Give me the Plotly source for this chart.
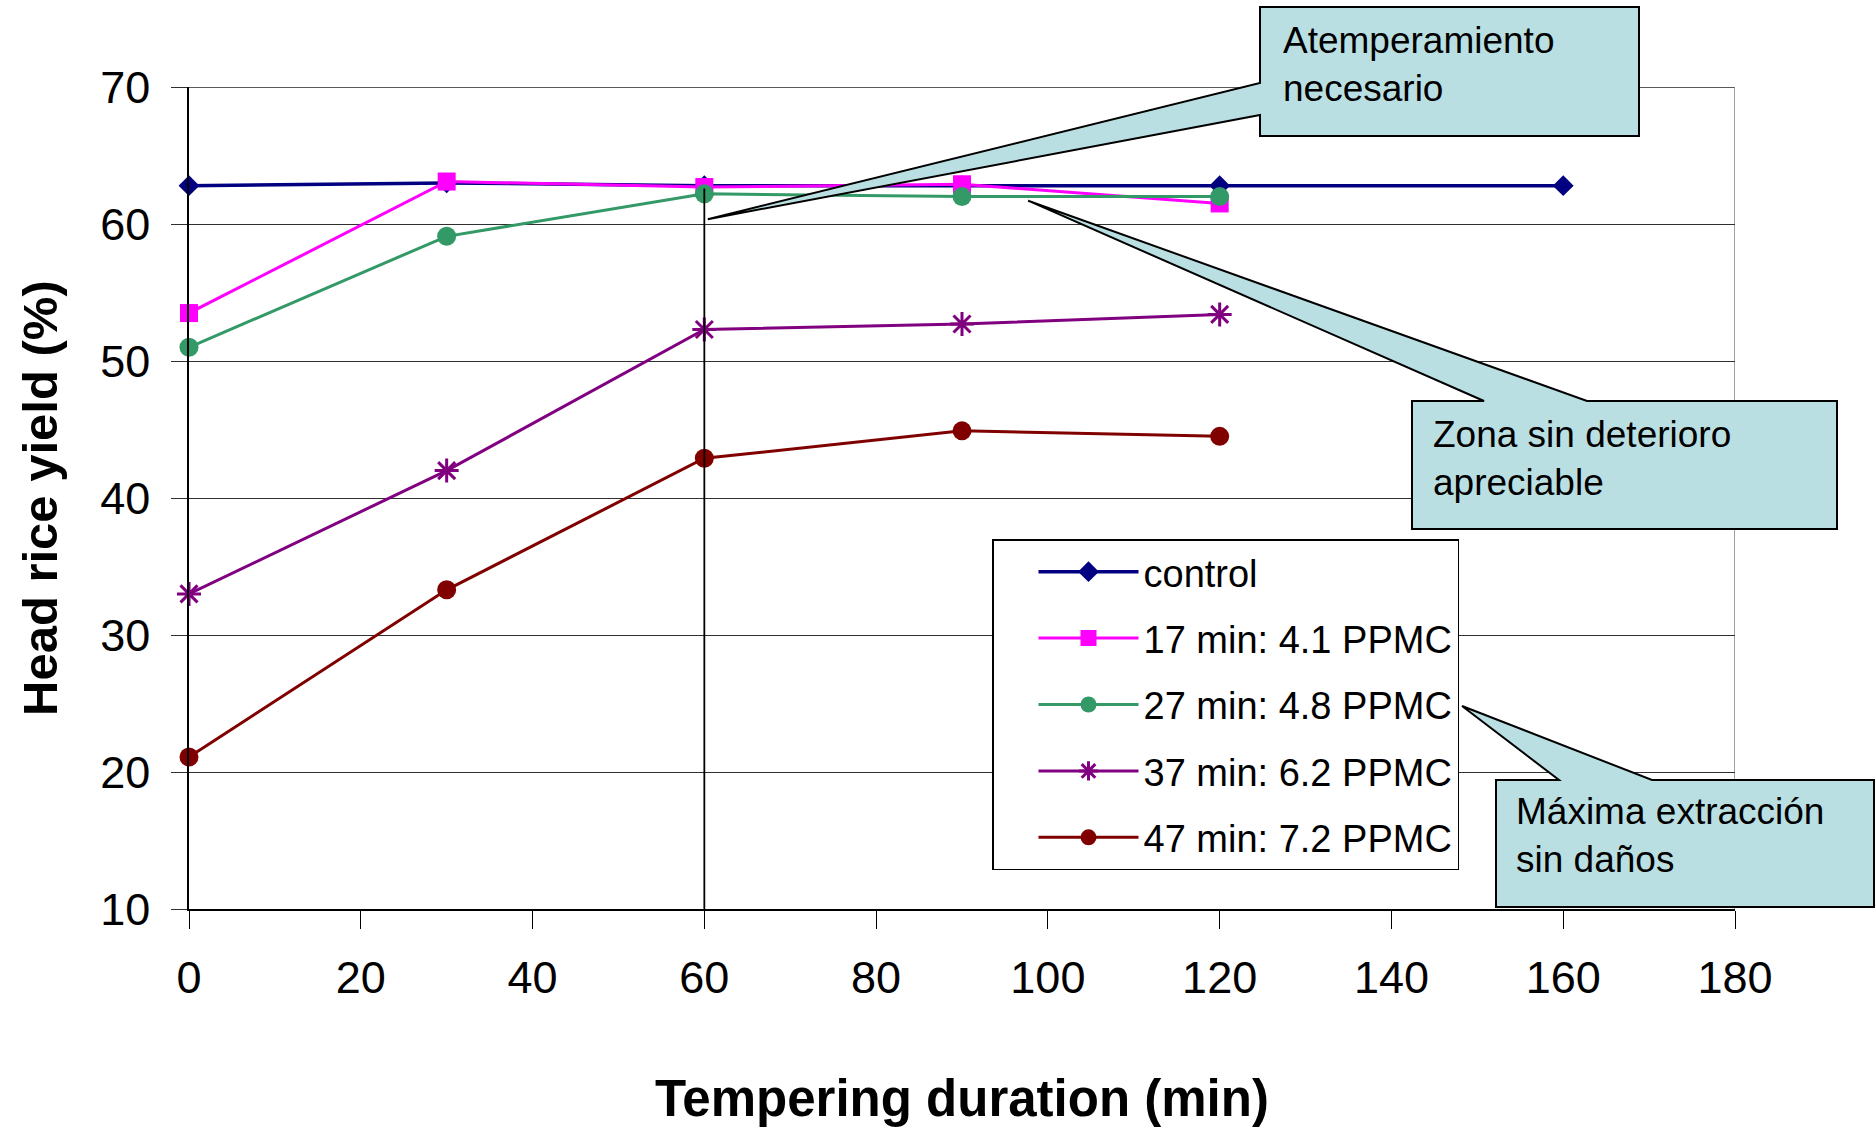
import plotly.graph_objects as go

# ---------------- data ----------------
x_control = [0, 30, 60, 90, 120, 160]
y_control = [62.8, 63.0, 62.8, 62.8, 62.8, 62.8]

x_series = [0, 30, 60, 90, 120]
y_17 = [53.5, 63.1, 62.7, 62.9, 61.5]
y_27 = [51.0, 59.1, 62.2, 62.0, 62.0]
y_37 = [33.0, 42.0, 52.3, 52.7, 53.4]
y_47 = [21.1, 33.3, 42.9, 44.9, 44.5]

names = ["control", "17 min: 4.1 PPMC", "27 min: 4.8 PPMC",
         "37 min: 6.2 PPMC", "47 min: 7.2 PPMC"]
colors = ["#000080", "#FF00FF", "#339966", "#800080", "#800000"]

x_ticks = [0, 20, 40, 60, 80, 100, 120, 140, 160, 180]
y_ticks = [10, 20, 30, 40, 50, 60, 70]

callout_texts = ["Atemperamiento<br>necesario",
                 "Zona sin deterioro<br>apreciable",
                 "Máxima extracción<br>sin daños"]

# ---------------- layout geometry ----------------
W_FIG, H_FIG = 1876, 1128
L, T = 189, 87
PW, PH = 1546, 822
XR = [0, 180]
YR = [10, 70]
FONT = "Liberation Sans, Arial, sans-serif"


def px2x(px):
    return (px - L) / PW


def py2y(py):
    return 1 - (py - T) / PH


def dx(x):
    return L + (x - XR[0]) / (XR[1] - XR[0]) * PW


def dy(y):
    return T + (YR[1] - y) / (YR[1] - YR[0]) * PH


fig = go.Figure()

series = [
    (x_control, y_control, dict(symbol="diamond", size=16, color=colors[0])),
    (x_series, y_17, dict(symbol="square", size=18, color=colors[1])),
    (x_series, y_27, dict(symbol="circle", size=19, color=colors[2])),
    (x_series, y_37, dict(symbol="asterisk-open", size=20, color=colors[3],
                          line=dict(color=colors[3], width=3))),
    (x_series, y_47, dict(symbol="circle", size=19, color=colors[4])),
]
widths = [3.5, 3, 3, 3, 3]
for i, (xs, ys, mk) in enumerate(series):
    fig.add_trace(go.Scatter(
        x=xs, y=ys, mode="lines+markers", name=names[i],
        legendgroup=f"g{i}",
        line=dict(color=colors[i], width=widths[i]),
        marker=mk, cliponaxis=False,
    ))

shapes = []
# plot border top / right
shapes.append(dict(type="line", xref="x", yref="y", x0=XR[0], x1=XR[1], y0=YR[1], y1=YR[1],
                   line=dict(color="#222222", width=1.3), layer="below"))
shapes.append(dict(type="line", xref="x", yref="y", x0=XR[1], x1=XR[1], y0=YR[0], y1=YR[1],
                   line=dict(color="#808080", width=1.5), layer="below"))
# vertical marker line at 60 min
shapes.append(dict(type="line", xref="x", yref="y", x0=60, x1=60, y0=62.6, y1=YR[0],
                   line=dict(color="black", width=1.8), layer="above"))


def poly(points):
    s = "M " + " L ".join(f"{px2x(a):.5f},{py2y(b):.5f}" for a, b in points) + " Z"
    return s


fill = "#BADFE3"
# callout 1 : Atemperamiento necesario -> tip at (60.4, 60.4)
tip1 = (dx(60.4), dy(60.35))
c1 = [(1260, 7), (1639, 7), (1639, 136), (1260, 136), (1260, 115), tip1, (1260, 83)]
# callout 2 : Zona sin deterioro -> tip at (97.7, 61.7)
tip2 = (dx(97.7), dy(61.7))
c2 = [(1412, 401), (1484, 401), tip2, (1587, 401), (1837, 401), (1837, 529), (1412, 529)]
# callout 3 : Maxima extraccion -> tip near legend entry
tip3 = (1462, 706)
c3 = [(1496, 780), (1559, 780), tip3, (1652, 780), (1874, 780), (1874, 907), (1496, 907)]
for c in (c1, c2, c3):
    shapes.append(dict(type="path", xref="paper", yref="paper", path=poly(c),
                       fillcolor=fill, line=dict(color="black", width=2), layer="above"))

annotations = []
for txt, (lx, cy) in zip(callout_texts, [(1281, 64), (1431, 458), (1514, 835)]):
    annotations.append(dict(text=txt, xref="paper", yref="paper", x=px2x(lx), y=py2y(cy),
                            xanchor="left", yanchor="middle", align="left", showarrow=False,
                            font=dict(family=FONT, size=37, color="black")))
# axis titles
annotations.append(dict(text="<b>Tempering duration (min)</b>", xref="paper", yref="paper",
                        x=px2x(962), y=py2y(1098), xanchor="center", yanchor="middle",
                        showarrow=False, font=dict(family=FONT, size=51, color="black")))
annotations.append(dict(text="<b>Head rice yield (%)</b>", xref="paper", yref="paper",
                        x=px2x(40), y=py2y(498), xanchor="center", yanchor="middle",
                        textangle=-90, showarrow=False,
                        font=dict(family=FONT, size=49, color="black")))

fig.update_layout(
    width=W_FIG, height=H_FIG,
    margin=dict(l=L, r=W_FIG - L - PW, t=T, b=H_FIG - T - PH, pad=0),
    paper_bgcolor="white", plot_bgcolor="white",
    font=dict(family=FONT, color="black"),
    shapes=shapes, annotations=annotations,
    showlegend=True,
    legend=dict(x=px2x(992), y=py2y(539), xanchor="left", yanchor="top",
                bgcolor="white", bordercolor="black", borderwidth=1.5,
                font=dict(family=FONT, size=38, color="black"),
                tracegroupgap=14, itemwidth=100, traceorder="grouped",
                indentation=40, itemsizing="trace",
                entrywidth=420, entrywidthmode="pixels"),
)
fig.update_xaxes(range=XR, tickvals=x_ticks, ticktext=[str(v) for v in x_ticks],
                 showgrid=False, zeroline=False, showline=True, linecolor="black", linewidth=1.5,
                 ticks="outside", ticklen=18, tickwidth=1.3, tickcolor="black",
                 tickfont=dict(family=FONT, size=45, color="black"), ticklabelstandoff=10)
fig.update_yaxes(range=YR, tickvals=y_ticks, ticktext=[str(v) for v in y_ticks],
                 showgrid=True, gridcolor="#303030", gridwidth=1.2, zeroline=False,
                 showline=True, linecolor="black", linewidth=1.5,
                 ticks="outside", ticklen=16, tickwidth=1.2, tickcolor="#303030",
                 tickfont=dict(family=FONT, size=45, color="black"), ticklabelstandoff=12)

fig.write_html("out.html")
